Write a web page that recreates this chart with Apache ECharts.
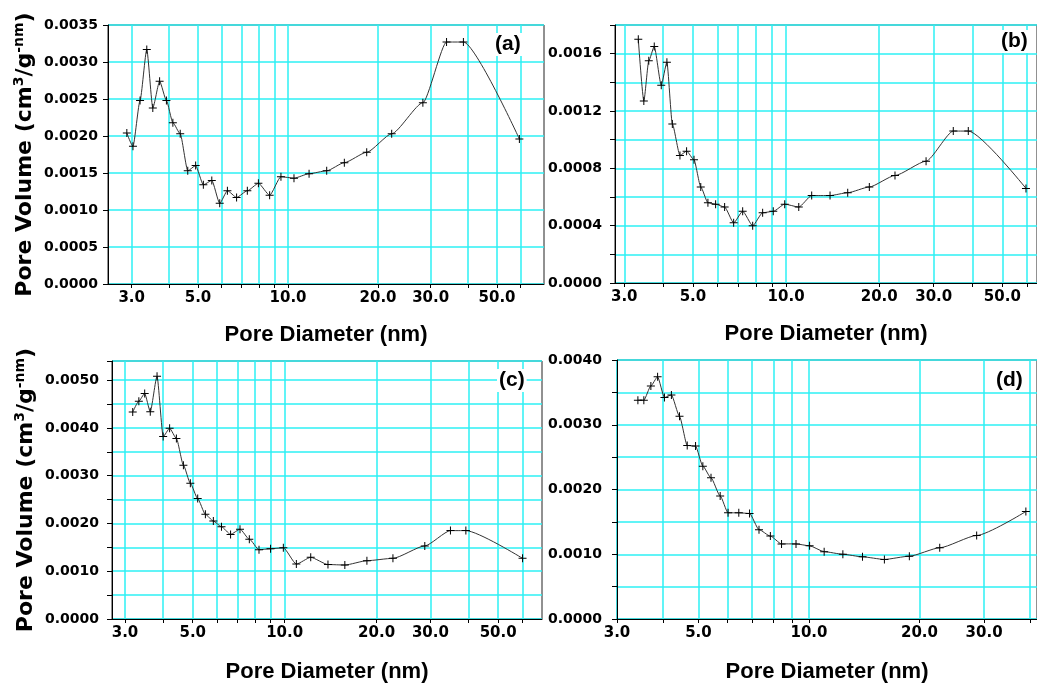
<!DOCTYPE html>
<html><head><meta charset="utf-8">
<script src="https://cdn.jsdelivr.net/npm/echarts@6/dist/echarts.min.js"></script>
<style>html,body{margin:0;padding:0;background:#fff}#c{width:1037px;height:686px}</style>
</head><body><div id="c"></div>
<script>
// ---- data (pore diameter in nm, pore volume in cm3/g-nm) ----
const diamA = [2.89, 3.03, 3.20, 3.37, 3.53, 3.72, 3.92, 4.12, 4.36, 4.62, 4.91, 5.21, 5.56, 5.91, 6.27, 6.73, 7.31, 7.96, 8.68, 9.47, 10.47, 11.76, 13.47, 15.43, 18.33, 22.22, 28.25, 33.9, 38.6, 59.4];
const volA  = [0.00204, 0.00186, 0.00248, 0.00317, 0.00238, 0.00274, 0.00248, 0.00218, 0.00203, 0.00153, 0.00160, 0.00134, 0.00140, 0.00109, 0.00126, 0.00117, 0.00126, 0.00136, 0.00120, 0.00145, 0.00143, 0.00149, 0.00153, 0.00164, 0.00178, 0.00203, 0.00245, 0.00327, 0.00327, 0.00196];

const diamB = [3.33, 3.47, 3.60, 3.75, 3.95, 4.12, 4.29, 4.54, 4.77, 5.04, 5.30, 5.59, 5.92, 6.33, 6.77, 7.24, 7.80, 8.40, 9.09, 9.90, 10.99, 12.10, 13.87, 15.82, 18.58, 22.49, 28.34, 34.7, 38.8, 59.6];
const volB  = [0.00170, 0.00127, 0.00155, 0.00165, 0.00138, 0.00154, 0.00111, 0.00089, 0.00092, 0.00086, 0.00067, 0.00056, 0.00055, 0.00053, 0.00042, 0.00050, 0.00040, 0.00049, 0.00050, 0.00055, 0.00053, 0.00061, 0.00061, 0.00063, 0.00067, 0.00075, 0.00085, 0.00106, 0.00106, 0.00066];

const diamC = [3.18, 3.33, 3.48, 3.63, 3.82, 4.00, 4.20, 4.42, 4.66, 4.91, 5.19, 5.50, 5.84, 6.21, 6.65, 7.14, 7.66, 8.24, 8.99, 9.90, 10.92, 12.17, 13.86, 15.74, 18.59, 22.62, 28.76, 34.9, 39.2, 60.1];
const volC  = [0.00433, 0.00456, 0.00472, 0.00434, 0.00508, 0.00382, 0.00399, 0.00378, 0.00322, 0.00284, 0.00252, 0.00219, 0.00205, 0.00193, 0.00177, 0.00188, 0.00167, 0.00145, 0.00147, 0.00149, 0.00115, 0.00129, 0.00114, 0.00113, 0.00122, 0.00127, 0.00153, 0.00185, 0.00185, 0.00127];

const diamD = [3.42, 3.55, 3.71, 3.87, 4.04, 4.22, 4.44, 4.66, 4.91, 5.14, 5.41, 5.73, 6.02, 6.44, 6.89, 7.31, 7.85, 8.42, 9.22, 10.04, 11.0, 12.37, 13.99, 16.05, 18.77, 22.71, 28.63, 38.98];
const volD  = [0.00338, 0.00338, 0.00360, 0.00374, 0.00342, 0.00346, 0.00313, 0.00268, 0.00267, 0.00236, 0.00218, 0.00190, 0.00164, 0.00164, 0.00163, 0.00138, 0.00128, 0.00116, 0.00116, 0.00113, 0.00104, 0.00100, 0.00096, 0.00092, 0.00097, 0.00110, 0.00129, 0.00166];

// tick positions / labels
const xGridTicks   = [3, 4, 5, 6, 7, 8, 9, 10, 20, 30, 40, 50, 60];
const xLabelTicks  = [3, 5, 10, 20, 30, 50];
const xGridTicksD  = [3, 4, 5, 6, 7, 8, 9, 10, 20, 30, 40];
const xLabelTicksD = [3, 5, 10, 20, 30];
const panelLabels  = ['(a)', '(b)', '(c)', '(d)'];
const xTitle = 'Pore Diameter (nm)';

// ---- layout / styling ----
const CYAN = '#2cf0f4';
const panels = [
  {d: diamA, v: volA, grid: {left: 108, top: 25, right: 493, bottom: 402}, xmin: 2.5, xmax: 71.8, ymax: 0.0035, step: 0.0005, lstep: 0.0005, gTicks: xGridTicks, lTicks: xLabelTicks, yName: true, yMargin: 10, nameGap: 70, xGap: 40, lab: {left: 493, top: 33}},
  {d: diamB, v: volB, grid: {left: 615, top: 25, right: 0, bottom: 403}, xmin: 2.8, xmax: 64.7, ymax: 0.0018, step: 0.0002, lstep: 0.0004, gTicks: xGridTicks, lTicks: xLabelTicks, yName: false, yMargin: 13, xGap: 40, lab: {left: 999, top: 30}},
  {d: diamC, v: volC, grid: {left: 112, top: 361, right: 495, bottom: 67}, xmin: 2.72, xmax: 69.6, ymax: 0.0054, step: 0.0005, lstep: 0.0010, gTicks: xGridTicks, lTicks: xLabelTicks, yName: true, yMargin: 13, nameGap: 73, xGap: 42, lab: {left: 497, top: 369}},
  {d: diamD, v: volD, grid: {left: 617, top: 360, right: 0, bottom: 67}, xmin: 3.0, xmax: 41.8, ymax: 0.0040, step: 0.0005, lstep: 0.0010, gTicks: xGridTicksD, lTicks: xLabelTicksD, yName: false, yMargin: 15, xGap: 42, lab: {left: 994, top: 369}}
];

const plusSymbol = 'path://M0,3.5h8v1h-8z M3.5,0h1v8h-1z';
const grids = [], xAxes = [], yAxes = [], series = [], titles = [];
panels.forEach((p, i) => {
  grids.push(Object.assign({show: true, borderColor: '#222', borderWidth: 1, backgroundColor: '#fff'}, p.grid));
  xAxes.push({
    type: 'log', logBase: 10, gridIndex: i, min: p.xmin, max: p.xmax,
    axisLine: {show: true, lineStyle: {color: '#000', width: 1}},
    axisTick: {show: true, customValues: p.gTicks, length: 4, lineStyle: {color: '#000'}},
    axisLabel: {customValues: p.lTicks, formatter: v => Number(v).toFixed(1), color: '#000',
      fontFamily: 'DejaVu Sans', fontWeight: 'bold', fontSize: 15, margin: 7},
    splitLine: {show: true, lineStyle: {color: CYAN, width: 1.5}},
    minorTick: {show: false}, minorSplitLine: {show: false},
    name: xTitle, nameLocation: 'middle', nameGap: p.xGap,
    nameTextStyle: {fontFamily: 'Liberation Sans', fontWeight: 'bold', fontSize: 22, color: '#000'}
  });
  const y = {
    type: 'value', gridIndex: i, min: 0, max: p.ymax, interval: p.step,
    axisLine: {show: true, lineStyle: {color: '#000', width: 1}},
    axisTick: {show: true, length: 5, lineStyle: {color: '#000'}},
    axisLabel: {color: '#000', fontFamily: 'DejaVu Sans', fontWeight: 'bold', fontSize: 14, margin: p.yMargin,
      formatter: v => { const r = v / p.lstep; return Math.abs(r - Math.round(r)) < 1e-6 ? v.toFixed(4) : ''; }},
    splitLine: {show: true, lineStyle: {color: CYAN, width: 1.5}}
  };
  if (p.yName) {
    Object.assign(y, {
      name: '{m|Pore Volume (cm}{s|3}{m|/g}{s|-nm}{m|)}', nameLocation: 'middle', nameGap: p.nameGap,
      nameTextStyle: {rich: {
        m: {fontFamily: 'DejaVu Sans', fontWeight: 'bold', fontSize: 22, color: '#000', lineHeight: 26},
        s: {fontFamily: 'DejaVu Sans', fontWeight: 'bold', fontSize: 14, color: '#000', lineHeight: 14, verticalAlign: 'top'}
      }}
    });
  }
  yAxes.push(y);
  series.push({
    type: 'line', xAxisIndex: i, yAxisIndex: i,
    data: p.d.map((x, k) => [x, p.v[k]]),
    smooth: 0.2, smoothMonotone: 'x',
    symbol: plusSymbol, symbolSize: 8, showSymbol: true,
    lineStyle: {color: '#333', width: 1},
    itemStyle: {color: '#000'},
    z: 5
  });
  titles.push({text: panelLabels[i], left: p.lab.left, top: p.lab.top, padding: [1, 2],
    backgroundColor: '#fff',
    textStyle: {fontFamily: 'Liberation Sans', fontWeight: 'bold', fontSize: 21, color: '#000'}});
});

const chart = echarts.init(document.getElementById('c'), null, {renderer: 'canvas'});
chart.setOption({
  animation: false,
  backgroundColor: '#fff',
  title: titles,
  grid: grids, xAxis: xAxes, yAxis: yAxes, series: series
});
</script></body></html>
